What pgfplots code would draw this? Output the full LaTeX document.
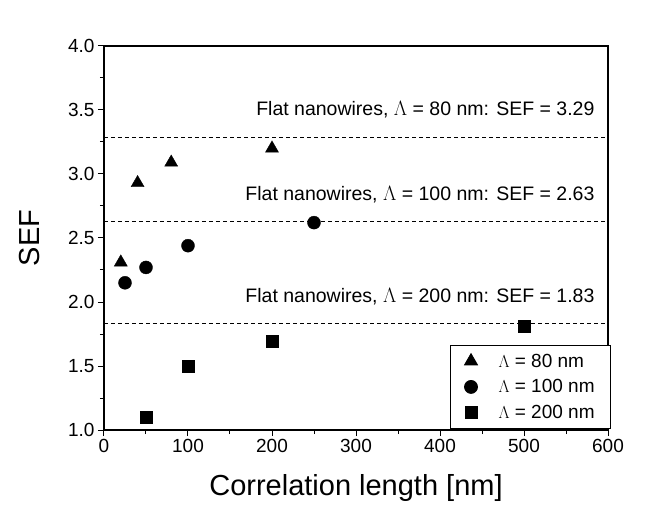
\documentclass[border=0pt]{standalone}
\usepackage{pgfplots}
\pgfplotsset{compat=1.18}
\usepackage{fontspec}
\setmainfont{Liberation Sans}

\begin{document}
\begin{tikzpicture}
\begin{axis}[
    scale only axis,
    width=504pt, height=384pt,
    xmin=0, xmax=600, ymin=1, ymax=4,
    xtick={0,100,...,600},
    ytick={1,1.5,...,4},
    minor x tick num=1,
    minor y tick num=1,
    xtick pos=left, ytick pos=left,
    tick align=outside,
    major tick length=6pt, minor tick length=4pt,
    axis line style={line width=1.3pt},
    every tick/.style={line width=1pt, black},
    /pgf/number format/assume math mode=true,
    yticklabel style={/pgf/number format/.cd, fixed, fixed zerofill, precision=1},
    tick label style={font=\fontsize{19}{22}\selectfont},
    xlabel={Correlation length [nm]},
    ylabel={SEF},
    label style={font=\fontsize{29}{33}\selectfont},
    xlabel style={at={(axis description cs:0.5,-0.15)}, anchor=center},
    ylabel style={at={(axis description cs:-0.147,0.5)}, anchor=center},
    legend style={
      at={(1.006,0.004)}, anchor=south east,
      draw=black, line width=0.8pt,
      font=\fontsize{19}{22}\selectfont,
      row sep=7pt, inner xsep=14pt, inner ysep=6pt,
      cells={anchor=west},
    },
    legend cell align=left,
  ]

  % flat nanowire reference levels
  \addplot[black, dash pattern=on 4pt off 3pt, line width=0.7pt, forget plot] coordinates {(0,3.29) (600,3.29)};
  \addplot[black, dash pattern=on 4pt off 3pt, line width=0.7pt, forget plot] coordinates {(0,2.63) (600,2.63)};
  \addplot[black, dash pattern=on 4pt off 3pt, line width=0.7pt, forget plot] coordinates {(0,1.83) (600,1.83)};

  \addplot[only marks, mark=triangle*, mark size=7.5pt, black] coordinates {
    (20,2.31) (40,2.93) (80,3.09) (200,3.20)
  };
  \addplot[only marks, mark=*, mark size=6.5pt, black] coordinates {
    (25,2.15) (50,2.27) (100,2.44) (250,2.62)
  };
  \addplot[only marks, mark=square*, mark size=6pt, black] coordinates {
    (50,1.10) (100,1.50) (200,1.69) (500,1.81)
  };

  \legend{\quad$\Lambda$ = 80 nm, \quad$\Lambda$ = 100 nm, \quad$\Lambda$ = 200 nm}

  \node[anchor=east, font=\fontsize{19.5}{23}\selectfont] at (axis cs:588,3.50) {Flat nanowires, $\Lambda$ = 80 nm: SEF = 3.29};
  \node[anchor=east, font=\fontsize{19.5}{23}\selectfont] at (axis cs:588,2.84) {Flat nanowires, $\Lambda$ = 100 nm: SEF = 2.63};
  \node[anchor=east, font=\fontsize{19.5}{23}\selectfont] at (axis cs:588,2.04) {Flat nanowires, $\Lambda$ = 200 nm: SEF = 1.83};
\end{axis}
\path[use as bounding box] ([xshift=-104pt,yshift=-76pt]current axis.south west) rectangle ([xshift=37pt,yshift=46pt]current axis.north east);
\end{tikzpicture}
\end{document}
